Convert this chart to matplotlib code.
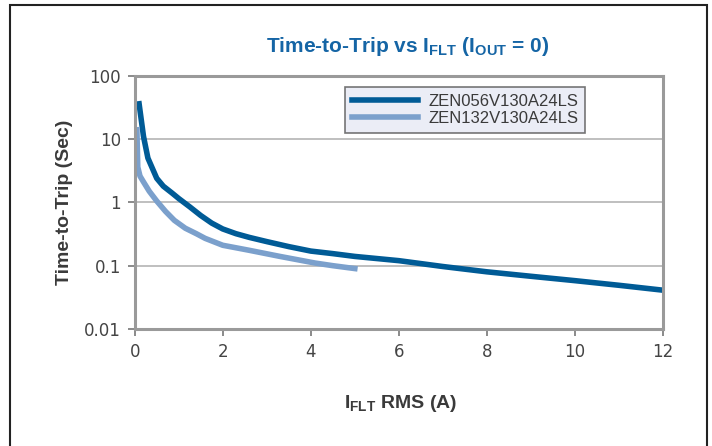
import matplotlib
matplotlib.use("Agg")
import matplotlib.pyplot as plt
from matplotlib.patches import Rectangle

# fault current (A) vs time-to-trip (s)
i_056 = [0.1, 0.2, 0.3, 0.5, 0.65, 0.85, 1.0, 1.25, 1.5, 1.75, 2.0, 2.3, 2.6, 3.0, 3.5, 4.0, 4.5, 5.0,
         6.0, 7.0, 8.0, 9.0, 10.0, 11.0, 12.0]
t_056 = [36, 11, 5.0, 2.4, 1.8, 1.4, 1.15, 0.85, 0.62, 0.47, 0.38, 0.32, 0.28, 0.24, 0.2, 0.17, 0.155, 0.14,
         0.12, 0.097, 0.08, 0.068, 0.058, 0.049, 0.041]
i_132 = [0.05, 0.07, 0.12, 0.2, 0.33, 0.5, 0.7, 0.9, 1.15, 1.4, 1.6, 2.0, 2.6, 3.3, 4.1, 4.5, 5.0]
t_132 = [14, 3.6, 2.6, 2.1, 1.5, 1.05, 0.72, 0.52, 0.39, 0.32, 0.27, 0.21, 0.175, 0.14, 0.11, 0.1, 0.09]
series = ["ZEN056V130A24LS", "ZEN132V130A24LS"]

dark = "#005b96"
light = "#7ba0cc"
grey_txt = "#3a3a3a"
spine_c = "#9a9a9a"

fig = plt.figure(figsize=(7.12, 4.46), dpi=100)
ax = fig.add_axes([134.7 / 712, 1 - 329 / 446, (663 - 134.7) / 712, (329 - 75.7) / 446])

ax.plot(i_056, t_056, color=dark, lw=4, label=series[0], solid_joinstyle="round")
ax.plot(i_132, t_132, color=light, lw=4, label=series[1], solid_joinstyle="round")

ax.set_yscale("log")
ax.set_ylim(0.01, 100)
ax.set_xlim(0, 12)
ax.set_xticks(range(0, 13, 2))
ax.set_yticks([0.01, 0.1, 1, 10, 100])
ax.set_yticklabels(["0.01", "0.1", "1", "10", "100"])
ax.minorticks_off()
ax.grid(axis="y", color="#b4b4b4", lw=1.2)
ax.set_axisbelow(True)

for s in ax.spines.values():
    s.set_color(spine_c)
    s.set_linewidth(2.2)
ax.tick_params(direction="out", length=5, width=1.2, color="#777777",
               labelsize=12, labelcolor="#444444", pad=5)

bold = dict(fontweight="bold", color=grey_txt, family=["Liberation Sans", "DejaVu Sans"])
ax.set_ylabel("Time-to-Trip (Sec)", fontsize=14, labelpad=8, **bold)
fig.text(401 / 712, 1 - 404 / 446, r"I$_\mathregular{FLT}$ RMS (A)", ha="center", va="center",
         fontsize=14, **bold)

fig.text(408 / 712, 1 - 46 / 446, r"Time-to-Trip vs I$_\mathregular{FLT}$ (I$_\mathregular{OUT}$ = 0)",
         ha="center", va="center", fontsize=15, fontweight="bold", color="#1565a5",
         family=["Liberation Sans Narrow", "Liberation Sans", "DejaVu Sans"])

leg = ax.legend(loc="upper left", bbox_to_anchor=((345 - 134.7) / (663 - 134.7), 1 - (87 - 75.7) / (329 - 75.7)),
                fontsize=12, handlelength=4.0, frameon=True, fancybox=False,
                borderpad=0.4, labelspacing=0.15, handletextpad=0.6, borderaxespad=0)
leg.get_frame().set_facecolor("#e6e9f4")
leg.get_frame().set_edgecolor("#555555")
leg.get_frame().set_linewidth(1.2)
for t in leg.get_texts():
    t.set_color(grey_txt)
    t.set_family(["Liberation Sans", "DejaVu Sans"])

# outer frame
fig.patches.append(Rectangle((10 / 712, -0.02), (707 - 10) / 712, 1 - 4.5 / 446 + 0.02,
                             transform=fig.transFigure, fill=False, edgecolor="#222222", lw=1.5))

fig.savefig("out.png", dpi=100)
